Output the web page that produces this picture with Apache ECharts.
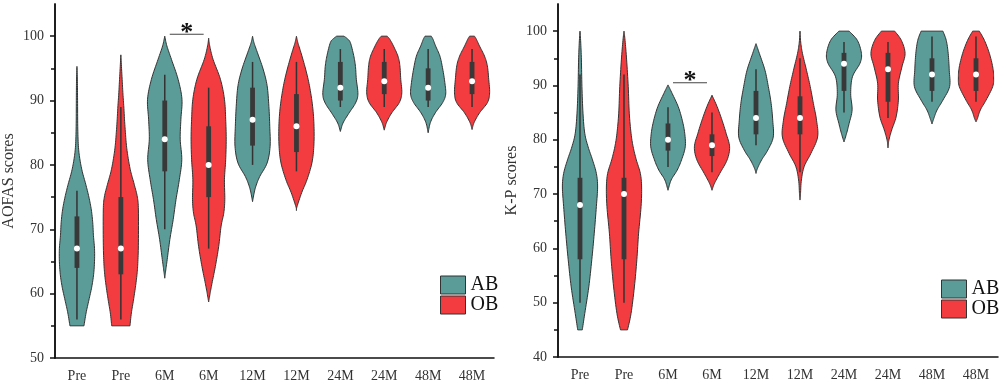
<!DOCTYPE html>
<html>
<head>
<meta charset="utf-8">
<script src="https://cdn.jsdelivr.net/npm/echarts@6/dist/echarts.min.js"></script>
<style>
html,body{margin:0;padding:0;background:#fff;}
#chart{width:1000px;height:385px;}
</style>
</head>
<body>
<div id="chart"></div>
<script>
// ---------- data ----------
const xLabels = ['Pre','Pre','6M','6M','12M','12M','24M','24M','48M','48M'];
const groupOf = ['AB','OB','AB','OB','AB','OB','AB','OB','AB','OB'];
const groupNames = ['AB','OB'];

// AOFAS panel
const aofasLow  = [56, 56, 70, 67, 80, 79, 89, 89, 89, 89];
const aofasQ1   = [64, 63, 79, 75, 83, 82, 90, 91, 90, 91];
const aofasMed  = [67, 67, 84, 80, 87, 86, 92, 93, 92, 93];
const aofasQ3   = [72, 75, 90, 86, 92, 91, 96, 96, 95, 96];
const aofasHigh = [76, 89, 94, 92, 96, 96, 98, 98, 98, 98];
// density outline: [score, relative half width]
const aofasShape = [
  [[55,0.40],[57,0.52],[59,0.68],[61,0.84],[63,0.95],[65,1.0],[67,1.0],[69,0.94],[71,0.9],[73,0.82],[75,0.68],[77,0.5],[79,0.3],[81,0.16],[83,0.08],[86,0.045],[90,0.035],[93,0.025],[95.3,0]],
  [[55,0.52],[57,0.6],[59,0.72],[61,0.83],[63,0.92],[65,0.97],[68,1.0],[73,1.0],[75,0.94],[77,0.76],[79,0.56],[81,0.42],[83,0.32],[85,0.26],[87,0.21],[89,0.17],[91,0.12],[93,0.08],[95,0.04],[97.1,0]],
  [[62.4,0],[63.5,0.05],[65.3,0.14],[68.4,0.29],[71.5,0.48],[74.6,0.64],[77.7,0.83],[80.8,0.97],[84,0.88],[87.1,0.92],[90.2,0.98],[93.3,0.76],[96.4,0.38],[98.5,0.12],[100,0]],
  [[58.7,0],[60,0.08],[61.6,0.19],[64.2,0.38],[67.3,0.57],[70.5,0.71],[72.5,0.86],[74.6,0.92],[77.7,0.9],[80.8,0.97],[84,1.0],[87.1,0.97],[90.2,0.9],[93.3,0.67],[96.4,0.25],[98.5,0.06],[99.7,0]],
  [[74.3,0],[75.5,0.08],[76.7,0.19],[78.2,0.41],[80.3,0.83],[82.9,1.0],[86,0.98],[89.1,0.93],[92.3,0.83],[94.9,0.6],[97.5,0.27],[99,0.08],[100,0]],
  [[72.9,0],[73.5,0.03],[75.7,0.3],[77.7,0.6],[80.3,0.88],[82.9,0.99],[86,1.0],[89.1,0.92],[92.3,0.74],[94.9,0.52],[97.5,0.25],[99,0.08],[100,0]],
  [[85.2,0],[86.5,0.15],[88,0.48],[89.6,0.86],[91,1.0],[93.3,0.91],[95.3,0.86],[97,0.76],[99,0.57],[99.6,0.4],[100,0.21]],
  [[85.4,0],[86.6,0.13],[88.1,0.43],[89.7,0.86],[91.2,1.0],[93.3,0.94],[95.4,0.89],[96.9,0.78],[98.5,0.52],[99.5,0.32],[100,0.17]],
  [[85,0],[86.6,0.13],[88.1,0.41],[89.7,0.83],[91,1.0],[92.8,0.95],[94.9,0.83],[96.9,0.67],[98.5,0.42],[99.5,0.28],[100,0.18]],
  [[85.5,0],[86.6,0.12],[88.1,0.43],[89.7,0.88],[91.2,1.0],[93.3,0.95],[95.4,0.87],[96.9,0.71],[98.5,0.42],[99.5,0.25],[100,0.14]]
];
const aofasTicks = [50,60,70,80,90,100];
const aofasMinorTicks = [55,65,75,85,95];
const aofasSig = [[2,3,100.3]];

// K-P panel
const kpLow  = [50, 50, 75, 74, 79, 74, 85, 84, 87, 87];
const kpQ1   = [58, 58, 78, 77, 81, 81, 89, 87, 89, 89];
const kpMed  = [68, 70, 80, 79, 84, 84, 94, 93, 92, 92];
const kpQ3   = [73, 73, 83, 81, 89, 88, 96, 96, 95, 95];
const kpHigh = [92, 92, 86, 85, 93, 95, 98, 98, 99, 99];
const kpShape = [
  [[45,0.13],[48,0.27],[52.9,0.5],[57.9,0.67],[62.8,0.81],[67.7,0.93],[71.3,1.0],[73.8,0.93],[76.3,0.71],[78.7,0.46],[81.2,0.27],[84.9,0.17],[89.8,0.11],[94.7,0.08],[98,0.04],[100,0]],
  [[45,0.2],[48,0.4],[52.9,0.59],[57.9,0.73],[62.8,0.83],[67.7,0.97],[71.3,1.0],[73.8,0.93],[76.3,0.7],[78.7,0.52],[81.2,0.4],[84.9,0.3],[89.8,0.24],[94.7,0.15],[98.3,0.06],[100,0]],
  [[70.7,0],[72.6,0.18],[74.4,0.52],[76.3,0.77],[78.7,0.98],[81.2,0.95],[83.6,0.81],[86.1,0.58],[88.5,0.24],[90.1,0]],
  [[70.7,0],[71.9,0.13],[73.8,0.44],[76.3,0.86],[78.7,1.0],[81.2,0.8],[83.6,0.57],[86.1,0.29],[88.2,0]],
  [[73.8,0],[74.7,0.08],[76.3,0.32],[78.1,0.67],[80.5,0.98],[83.6,0.95],[86.7,0.86],[89.8,0.7],[92.8,0.51],[95.9,0.19],[97.7,0]],
  [[68.9,0],[70.1,0.03],[72.6,0.08],[75.1,0.24],[77.5,0.62],[80.5,1.0],[83.6,0.94],[86.7,0.76],[89.8,0.58],[92.8,0.37],[95.9,0.14],[98,0.04],[100,0]],
  [[79.6,0],[81.2,0.15],[83,0.29],[85.5,0.46],[88.5,0.38],[91.6,0.48],[94.1,0.91],[95.9,0.99],[98.3,0.76],[100,0.29]],
  [[78.5,0],[79.9,0.05],[81.8,0.21],[84.2,0.46],[87.3,0.59],[90.4,0.59],[93.4,0.79],[95.9,0.97],[98.3,0.76],[100,0.38]],
  [[82.9,0],[83.9,0.1],[85.5,0.29],[87.3,0.62],[89.8,1.0],[92.8,0.98],[95.9,0.92],[98.3,0.81],[100,0.62]],
  [[83.3,0],[83.9,0.08],[85.5,0.25],[87.3,0.57],[89.8,0.95],[91.6,1.0],[93.4,0.95],[95.9,0.76],[98.3,0.48],[100,0.19]]
];
const kpTicks = [40,50,60,70,80,90,100];
const kpMinorTicks = [45,55,65,75,85,95];
const kpSig = [[2,3,90.5]];

// ---------- style ----------
const COLORS = {AB:'#5b9b98', OB:'#f23c3f'};
const EDGE = '#333333';
const FONT = 'Liberation Serif';

function catmull(pts, seg) {
  const out = [];
  const n = pts.length;
  for (let k = 0; k < n - 1; k++) {
    const p0 = pts[Math.max(k-1,0)], p1 = pts[k], p2 = pts[k+1], p3 = pts[Math.min(k+2,n-1)];
    for (let s = 0; s < seg; s++) {
      const t = s/seg, t2 = t*t, t3 = t2*t;
      const f = (a,b,c,d) => 0.5*(2*b + (-a+c)*t + (2*a-5*b+4*c-d)*t2 + (-a+3*b-3*c+d)*t3);
      out.push([f(p0[0],p1[0],p2[0],p3[0]), f(p0[1],p1[1],p2[1],p3[1])]);
    }
  }
  out.push(pts[n-1].slice());
  return out;
}

function violinSeries(group, axisIdx, shapes, low, q1, med, q3, high) {
  const idx = [];
  xLabels.forEach((_, i) => { if (groupOf[i] === group) idx.push(i); });
  return {
    type: 'custom',
    name: group,
    xAxisIndex: axisIdx,
    yAxisIndex: axisIdx,
    itemStyle: {color: COLORS[group]},
    data: idx.map(i => [i, med[i]]),
    renderItem: function (params, api) {
      const i = api.value(0);
      const band = api.size([1, 0])[0];
      const maxHalf = band * 0.4;
      const cx = api.coord([i, med[i]])[0];
      const yOf = v => api.coord([i, v])[1];
      const left = shapes[i].map(p => [p[1], yOf(p[0])]);
      const sm = catmull(left, 8).map(p => [cx - Math.max(0, p[0]) * maxHalf, p[1]]);
      const pts = sm.concat(sm.slice().reverse().map(p => [2*cx - p[0], p[1]]));
      return {
        type: 'group',
        children: [
          {type:'polygon', shape:{points: pts}, style:{fill: COLORS[group], stroke: EDGE, lineWidth: 1}},
          {type:'line', shape:{x1:cx, y1:yOf(low[i]), x2:cx, y2:yOf(high[i])}, style:{stroke:'#333', lineWidth:1.5}},
          {type:'rect', shape:{x:cx-2.4, y:yOf(q3[i]), width:4.8, height:yOf(q1[i])-yOf(q3[i])}, style:{fill:'#383838'}},
          {type:'circle', shape:{cx:cx, cy:yOf(med[i]), r:3}, style:{fill:'#ffffff'}}
        ]
      };
    }
  };
}

function sigSeries(axisIdx, sig) {
  return {
    type: 'custom',
    xAxisIndex: axisIdx,
    yAxisIndex: axisIdx,
    silent: true,
    data: sig,
    renderItem: function (params, api) {
      const a = api.value(0), b = api.value(1), v = api.value(2);
      const p1 = api.coord([a, v]), p2 = api.coord([b, v]);
      const x1 = p1[0] + 5, x2 = p2[0] - 5;
      return {
        type: 'group',
        children: [
          {type:'line', shape:{x1:x1, y1:p1[1], x2:x2, y2:p1[1]}, style:{stroke:'#444', lineWidth:1.2}},
          {type:'text', x:(x1+x2)/2, y:p1[1]-1, style:{text:'*', fontSize:26, fontWeight:'bold', fontFamily:FONT, fill:'#111', align:'center', verticalAlign:'middle'}}
        ]
      };
    }
  };
}

function xAxis(grid) {
  return {
    type:'category', gridIndex:grid, data:xLabels, boundaryGap:true,
    axisLine:{lineStyle:{color:'#111', width:1.5}},
    axisTick:{alignWithLabel:true, length:6, lineStyle:{color:'#111', width:1.5}},
    axisLabel:{interval:0, fontFamily:FONT, fontSize:14, color:'#333', margin:11},
    splitLine:{show:false}
  };
}
function yAxis(grid, min, ticks, name) {
  return {
    type:'value', gridIndex:grid, position:'left', min:min, max:105, name:name,
    nameLocation:'middle', nameGap:38,
    nameTextStyle:{fontFamily:FONT, fontSize:16, color:'#333'},
    axisLine:{show:true, lineStyle:{color:'#111', width:1.5}},
    axisTick:{show:true, length:5, customValues:ticks, lineStyle:{color:'#111', width:1.5}},
    axisLabel:{fontFamily:FONT, fontSize:14, color:'#333', margin:11, customValues:ticks},
    splitLine:{show:false}
  };
}
function yMinor(grid, min, ticks) {
  return {
    type:'value', gridIndex:grid, position:'left', min:min, max:105,
    axisLine:{show:true, lineStyle:{color:'#111', width:1.5}},
    axisTick:{show:true, length:4, customValues:ticks, lineStyle:{color:'#111', width:1.5}},
    axisLabel:{show:false},
    splitLine:{show:false}
  };
}
function legend(left, top) {
  return {
    orient:'vertical', left:left, top:top, itemGap:0, itemWidth:25, itemHeight:18,
    padding:0, icon:'rect', data:groupNames,
    itemStyle:{borderColor:'#333', borderWidth:1},
    textStyle:{fontFamily:FONT, fontSize:20, color:'#111', lineHeight:18}
  };
}

const chart = echarts.init(document.getElementById('chart'), null, {renderer:'canvas'});
chart.setOption({
  animation:false,
  backgroundColor:'#ffffff',
  grid:[
    {left:54, top:4, width:440, height:354},
    {left:558, top:4, width:440, height:353}
  ],
  xAxis:[xAxis(0), xAxis(1)],
  yAxis:[
    yAxis(0, 50, aofasTicks, 'AOFAS scores'),
    yAxis(1, 40, kpTicks, 'K-P scores'),
    yMinor(0, 50, aofasMinorTicks),
    yMinor(1, 40, kpMinorTicks)
  ],
  legend:[legend(440, 275), legend(941, 279)],
  series:[
    violinSeries('AB', 0, aofasShape, aofasLow, aofasQ1, aofasMed, aofasQ3, aofasHigh),
    violinSeries('OB', 0, aofasShape, aofasLow, aofasQ1, aofasMed, aofasQ3, aofasHigh),
    violinSeries('AB', 1, kpShape, kpLow, kpQ1, kpMed, kpQ3, kpHigh),
    violinSeries('OB', 1, kpShape, kpLow, kpQ1, kpMed, kpQ3, kpHigh),
    sigSeries(0, aofasSig),
    sigSeries(1, kpSig)
  ]
});
</script>
</body>
</html>
